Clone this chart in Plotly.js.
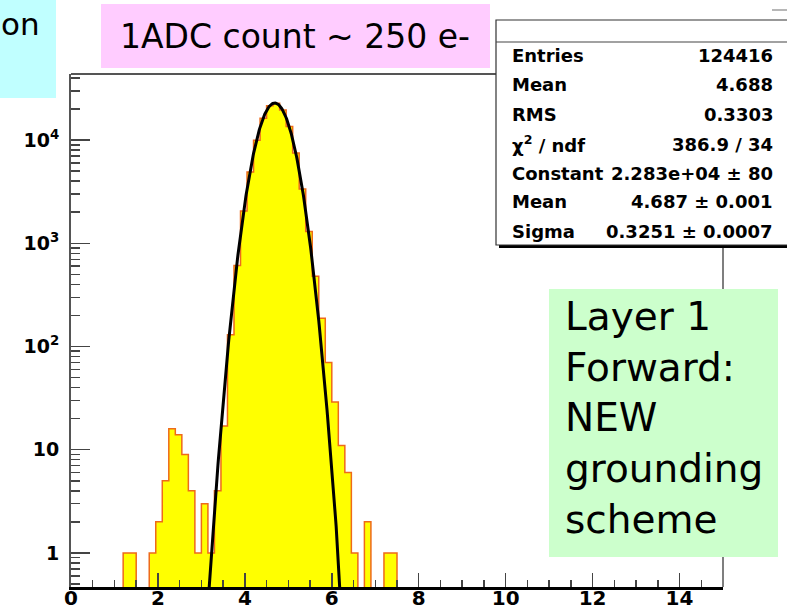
<!DOCTYPE html>
<html>
<head>
<meta charset="utf-8">
<script src="https://cdn.plot.ly/plotly-3.0.1.min.js"></script>
<style>html,body{margin:0;padding:0;background:#fff;}#chart{width:787px;height:615px;}</style>
</head>
<body>
<div id="chart"></div>
<script>
// ---- data ----
const binLow = 0, binWidth = 0.15, nBins = 100;
const counts = [
  0,0,0,0,0,0,0,0,1,1,          // 0.00 - 1.50
  0,0,1,2,5,16,14,9,4,1,        // 1.50 - 3.00
  3,1,4,17,130,610,2050,4900,9950,16300,   // 3.00 - 4.50
  21500,22700,19600,13500,7500,3350,1300,480,188,70, // 4.50 - 6.00
  29,11,6,1,0,2,0,0,1,1,        // 6.00 - 7.50
  0,0,0,0,0,0,0,0,0,0,
  0,0,0,0,0,0,0,0,0,0,
  0,0,0,0,0,0,0,0,0,0,
  0,0,0,0,0,0,0,0,0,0,
  0,0,0,0,0,0,0,0,0,0
];
const fitConstant = 22830, fitMean = 4.687, fitSigma = 0.3251;
const xTickVals = [0,2,4,6,8,10,12,14];
const yTickVals = [1,10,100,1000,10000];
const yTickText = ["1","10","10<sup>2</sup>","10<sup>3</sup>","10<sup>4</sup>"];
const statLabels = ["Entries","Mean","RMS","\u03c7<sup>2</sup> / ndf","Constant","Mean","Sigma"];
const statValues = ["124416","4.688","0.3303","386.9 / 34","2.283e+04 \u00b1 80","4.687 \u00b1 0.001","0.3251 \u00b1 0.0007"];
const noteTopLeft = "on";
const noteTop = "1ADC count ~ 250 e-";
const noteRight = "Layer 1<br>Forward:<br>NEW<br>grounding<br>scheme";

// ---- geometry helpers (pixel -> paper) ----
const L = 71, R = 723, T = 74, B = 587;
const px = v => (v - L) / (R - L);
const py = v => (B - v) / (B - T);

// histogram staircase
const floorVal = 1e-3;
const hx = [binLow], hy = [floorVal];
for (let i = 0; i < nBins; i++) {
  hx.push(binLow + i * binWidth);
  hy.push(counts[i] > 0 ? counts[i] : floorVal);
}
hx.push(binLow + nBins * binWidth); hy.push(counts[nBins-1] > 0 ? counts[nBins-1] : floorVal);
hx.push(binLow + nBins * binWidth); hy.push(floorVal);

// fit function curve
const fx = [], fy = [];
for (let k = 0; k <= 400; k++) {
  const x = 2.8 + k * 0.01;
  fx.push(x);
  fy.push(fitConstant * Math.exp(-0.5 * Math.pow((x - fitMean) / fitSigma, 2)));
}

const traces = [
  {x: hx, y: hy, type: 'scatter', mode: 'lines', line: {shape: 'hv', color: '#ee6a1a', width: 1.5},
   fill: 'tozeroy', fillcolor: '#ffff00', hoverinfo: 'skip'},
  {x: fx, y: fy, type: 'scatter', mode: 'lines', line: {color: '#000', width: 3}, hoverinfo: 'skip'}
];

const minorY = [];
[0.1,1,10,100,1000,10000].forEach(d => { for (let m = 2; m <= 9; m++) minorY.push(m * d); });

const xTickFont = {family: 'DejaVu Sans', size: 20, color: '#000', weight: 'bold'};
const yTickFont = {family: 'DejaVu Sans', size: 19, color: '#000', weight: 'bold'};

const shapes = [
  {type:'line', xref:'paper', yref:'paper', x0:0, x1:1, y0:1, y1:1, line:{color:'#555', width:2}},
  {type:'line', xref:'paper', yref:'paper', x0:1, x1:1, y0:0, y1:1, line:{color:'#555', width:1.5}},
  {type:'rect', xref:'paper', yref:'paper', x0:px(0), x1:px(56), y0:py(98), y1:py(-2), fillcolor:'#c0ffff', line:{width:0}, layer:'above'},
  {type:'rect', xref:'paper', yref:'paper', x0:px(101), x1:px(490), y0:py(68), y1:py(4), fillcolor:'#ffccff', line:{width:0}, layer:'above'},
  {type:'rect', xref:'paper', yref:'paper', x0:px(549), x1:px(778), y0:py(557), y1:py(289), fillcolor:'#ccffcc', line:{width:0}, layer:'above'},
  {type:'rect', xref:'paper', yref:'paper', x0:px(499), x1:px(795), y0:py(248), y1:py(23), fillcolor:'#000', line:{width:0}, layer:'above'},
  {type:'rect', xref:'paper', yref:'paper', x0:px(496), x1:px(792), y0:py(245), y1:py(20), fillcolor:'#fff', line:{color:'#333', width:1.2}, layer:'above'},
  {type:'line', xref:'paper', yref:'paper', x0:px(496), x1:px(792), y0:py(42), y1:py(42), line:{color:'#444', width:1.2}, layer:'above'},
  {type:'line', xref:'paper', yref:'paper', x0:px(772), x1:px(787), y0:py(10), y1:py(10), line:{color:'#888', width:1.2}, layer:'above'}
];

const statRows = [55, 84, 114, 144, 173, 201, 231];
const statFont = {family:'DejaVu Sans', size:18, color:'#000', weight:'bold'};
const annotations = [];
statLabels.forEach((s, i) => {
  annotations.push({xref:'paper', yref:'paper', x:px(510), y:py(statRows[i]), xanchor:'left', yanchor:'middle',
    text:s, showarrow:false, font:statFont});
  annotations.push({xref:'paper', yref:'paper', x:px(775), y:py(statRows[i]), xanchor:'right', yanchor:'middle',
    text:statValues[i], showarrow:false, font:statFont});
});
annotations.push({xref:'paper', yref:'paper', x:px(42), y:py(24), xanchor:'right', yanchor:'middle',
  text:noteTopLeft, showarrow:false, font:{family:'DejaVu Sans', size:31, color:'#000'}});
annotations.push({xref:'paper', yref:'paper', x:px(295), y:py(37), xanchor:'center', yanchor:'middle',
  text:noteTop, showarrow:false, font:{family:'DejaVu Sans', size:33, color:'#000'}});
annotations.push({xref:'paper', yref:'paper', x:px(563), y:py(418), xanchor:'left', yanchor:'middle', align:'left',
  text:noteRight, showarrow:false, font:{family:'DejaVu Sans', size:39, color:'#000'}});

const layout = {
  width: 787, height: 615,
  margin: {l: L, r: 787 - R, t: T, b: 615 - B, pad: 0},
  paper_bgcolor: '#fff', plot_bgcolor: '#fff',
  showlegend: false,
  xaxis: {range: [0, 15], tickmode: 'array', tickvals: xTickVals, ticks: 'inside', ticklen: 14, tickwidth: 1.5,
    tickcolor: '#444', showgrid: false, zeroline: false, showline: true, linecolor: '#000', linewidth: 3,
    tickfont: xTickFont, ticklabelstandoff: -9,
    minor: {dtick: 0.5, tick0: 0, ticks: 'inside', ticklen: 7, tickwidth: 1.5, tickcolor: '#444', showgrid: false}},
  yaxis: {type: 'log', range: [-0.33, 4.64], tickmode: 'array', tickvals: yTickVals, ticktext: yTickText,
    ticks: 'inside', ticklen: 19, tickwidth: 1.5, tickcolor: '#444', showgrid: false, zeroline: false,
    showline: true, linecolor: '#555', linewidth: 2, tickfont: yTickFont, ticklabelstandoff: 6,
    minor: {tickmode: 'array', tickvals: minorY, ticks: 'inside', ticklen: 9, tickwidth: 1.5, tickcolor: '#444', showgrid: false}},
  shapes: shapes,
  annotations: annotations
};

Plotly.newPlot('chart', traces, layout, {staticPlot: true, displayModeBar: false});
</script>
</body>
</html>
